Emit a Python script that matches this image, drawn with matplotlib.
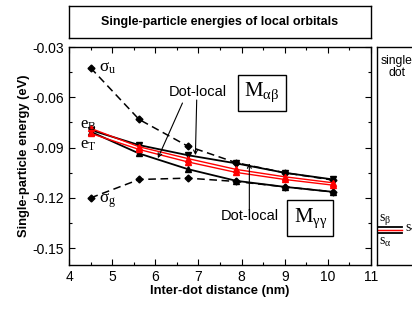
import matplotlib
matplotlib.use("Agg")
import matplotlib.pyplot as plt
from matplotlib.ticker import MultipleLocator

plt.rcParams['font.family'] = ['Liberation Sans', 'DejaVu Sans']
plt.rcParams['mathtext.fontset'] = 'custom'
plt.rcParams['mathtext.rm'] = 'Liberation Serif'
plt.rcParams['mathtext.it'] = 'Liberation Serif:italic'

# Data
distance = [4.5, 5.625, 6.75, 7.875, 9.0, 10.125]
sigma_u = [-0.0424, -0.0732, -0.0891, -0.0990, -0.1050, -0.1094]
sigma_g = [-0.1200, -0.1090, -0.1082, -0.1102, -0.1134, -0.1164]
e_B = [-0.0795, -0.0885, -0.0945, -0.0994, -0.1050, -0.1090]
red_upper = [-0.0785, -0.0895, -0.0965, -0.1030, -0.1074, -0.1110]
red_lower = [-0.0815, -0.0911, -0.0985, -0.1048, -0.1090, -0.1124]
e_T = [-0.0805, -0.0935, -0.1028, -0.1098, -0.1134, -0.1164]
single_dot_levels_black = [-0.1373, -0.1412]
single_dot_levels_red = [-0.1389, -0.1394]

W, H = 412, 319
fig = plt.figure(figsize=(W / 100, H / 100), dpi=100)

def rect(x0, y0, x1, y1):
    return [x0 / W, 1 - y1 / H, (x1 - x0) / W, (y1 - y0) / H]

# Title box
tax = fig.add_axes(rect(69, 6, 371, 38))
tax.set_xticks([]); tax.set_yticks([])
for s in tax.spines.values():
    s.set_linewidth(1.0)
tax.text(0.5, 0.5, 'Single-particle energies of local orbitals', ha='center', va='center',
         fontsize=9, fontweight='bold', transform=tax.transAxes)

# Main axes
ax = fig.add_axes(rect(69, 47, 371, 265))
ax.set_xlim(4, 11)
ax.set_ylim(-0.16, -0.03)
ax.xaxis.set_major_locator(MultipleLocator(1))
ax.xaxis.set_minor_locator(MultipleLocator(0.5))
ax.yaxis.set_major_locator(MultipleLocator(0.03))
ax.yaxis.set_minor_locator(MultipleLocator(0.015))
ax.tick_params(which='both', direction='in', top=True, right=True, labelsize=10)
ax.tick_params(which='major', length=4, width=0.8)
ax.tick_params(which='minor', length=2.5, width=0.8)
ax.set_yticks([-0.15, -0.12, -0.09, -0.06, -0.03])
ax.set_yticklabels(['-0.15', '-0.12', '-0.09', '-0.06', '-0.03'])
for s in ax.spines.values():
    s.set_linewidth(1.0)
ax.set_xlabel('Inter-dot distance (nm)', fontsize=9.3, fontweight='bold', labelpad=1)
ax.set_ylabel('Single-particle energy (eV)', fontsize=9.3, fontweight='bold', labelpad=2)

dash = (0, (5, 3))
ax.plot(distance, sigma_u, color='black', linestyle=dash, lw=1.1, marker='D', ms=3.5)
ax.plot(distance, sigma_g, color='black', linestyle=dash, lw=1.1, marker='D', ms=3.5)
ax.plot(distance, e_B, color='black', lw=1.3, marker='v', ms=4.5)
ax.plot(distance, e_T, color='black', lw=1.3, marker='^', ms=4.5)
ax.plot(distance, red_upper, color='red', lw=1.0, marker='^', ms=5)
ax.plot(distance, red_lower, color='red', lw=1.0, marker='^', ms=5)

ax.text(4.7, -0.0425, r'$\mathrm{σ}_\mathrm{u}$', fontsize=12.5, ha='left', va='center')
ax.text(4.7, -0.1215, r'$\mathrm{σ}_\mathrm{g}$', fontsize=12.5, ha='left', va='center')
ax.text(4.44, -0.0766, r'$\mathrm{e}_\mathrm{B}$', fontsize=12, ha='center', va='center')
ax.text(4.44, -0.0885, r'$\mathrm{e}_\mathrm{T}$', fontsize=12, ha='center', va='center')

ax.text(6.98, -0.0569, 'Dot-local', fontsize=10.5, ha='center', va='center')
ax.text(8.47, -0.0572, r'$\mathrm{M}_{\mathrm{αβ}}$', fontsize=15, ha='center', va='center',
        bbox=dict(boxstyle='square,pad=0.3', fc='white', ec='black', lw=1.0))
ax.text(8.2, -0.1309, 'Dot-local', fontsize=10.5, ha='center', va='center')
ax.text(9.59, -0.1321, r'$\mathrm{M}_{\mathrm{γγ}}$', fontsize=15, ha='center', va='center',
        bbox=dict(boxstyle='square,pad=0.3', fc='white', ec='black', lw=1.0))

ap = dict(arrowstyle='->', lw=0.8, color='black', shrinkA=0, shrinkB=0, mutation_scale=7)
ax.annotate('', xy=(6.06, -0.0963), xytext=(6.63, -0.0634), arrowprops=ap)
ax.annotate('', xy=(6.93, -0.0945), xytext=(6.96, -0.0616), arrowprops=ap)
ax.annotate('', xy=(8.18, -0.0993), xytext=(8.18, -0.1273), arrowprops=ap)

# Right panel (single dot)
rax = fig.add_axes(rect(377, 47, 440, 265))
rax.set_xlim(0, 1)
rax.set_ylim(-0.16, -0.03)
rax.set_xticks([]); rax.set_yticks([])
for s in rax.spines.values():
    s.set_linewidth(1.0)
rax.text(0.06, -0.0404, 'single', fontsize=8.7, ha='left', va='baseline')
rax.text(0.31, -0.0474, 'dot', fontsize=8.7, ha='center', va='baseline')
for y in single_dot_levels_black:
    rax.plot([0.02, 0.40], [y, y], color='black', lw=1.3)
for y in single_dot_levels_red:
    rax.plot([0.02, 0.40], [y, y], color='red', lw=0.9)
rax.text(0.03, -0.1330, r'$\mathrm{s}_\mathrm{β}$', fontsize=10, ha='left', va='center')
rax.text(0.03, -0.1462, r'$\mathrm{s}_\mathrm{α}$', fontsize=10, ha='left', va='center')
rax.text(0.44, -0.1390, r'$\mathrm{s}_\mathrm{γ}$', fontsize=10, ha='left', va='center')

fig.savefig('out.png', dpi=100)
